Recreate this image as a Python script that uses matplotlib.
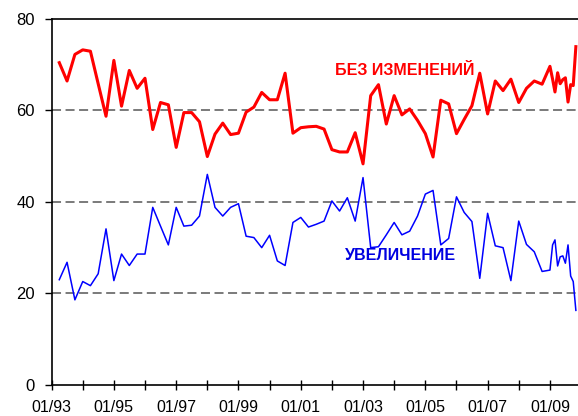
import matplotlib
matplotlib.use('Agg')
import matplotlib.pyplot as plt
import matplotlib.dates as mdates
import pandas as pd

# Даты: поквартально с 04/1993 по 10/2008, затем помесячно в 2009 году
даты_кв = pd.date_range('1993-04-01', '2008-10-01', freq='QS')
даты_мес = pd.date_range('2009-01-01', '2009-11-01', freq='MS')
даты = даты_кв.append(даты_мес)

# Доля ответов "без изменений", %
без_изменений = [
    70.4, 66.4, 72.2,
    73.2, 72.9, 65.8, 58.7,
    70.9, 60.9, 68.7, 64.8,
    67.0, 55.8, 61.7, 61.2,
    51.9, 59.5, 59.5, 57.5,
    49.9, 54.8, 57.2, 54.7,
    55.0, 59.6, 60.7, 63.9,
    62.3, 62.3, 68.1, 55.0,
    56.2, 56.4, 56.5, 55.9,
    51.4, 50.9, 50.9, 55.1,
    48.3, 63.2, 65.6, 57.0,
    63.2, 59.0, 60.3, 57.8,
    54.9, 49.8, 62.2, 61.4,
    54.9, 58.0, 61.0, 68.1,
    59.2, 66.4, 64.3, 66.8,
    61.7, 64.8, 66.4, 65.7,
    69.6, 66.8, 64.0, 68.2, 65.8, 66.7, 67.1, 61.8, 65.6, 65.4, 73.9,
]

# Доля ответов "увеличение", %
увеличение = [
    23.0, 26.8, 18.6,
    22.6, 21.7, 24.3, 34.1,
    22.8, 28.6, 26.1, 28.6,
    28.6, 38.8, 34.7, 30.6,
    38.8, 34.7, 34.9, 36.9,
    46.0, 38.8, 36.9, 38.8,
    39.6, 32.5, 32.2, 30.0,
    32.7, 27.1, 26.1, 35.5,
    36.6, 34.5, 35.1, 35.8,
    40.2, 38.0, 40.9, 35.8,
    45.3, 30.0, 30.2, 32.8,
    35.5, 32.8, 33.6, 36.9,
    41.7, 42.5, 30.6, 32.0,
    41.1, 37.7, 35.7, 23.3,
    37.5, 30.4, 30.0, 22.8,
    35.8, 30.7, 29.1, 24.8,
    25.1, 30.6, 31.7, 26.0, 28.0, 28.2, 26.6, 30.6, 23.8, 22.6, 16.3,
]

# Подписанные годы (нечётные) и все годы для мелких делений
годы_подписи = [pd.Timestamp(f'{г}-01-01') for г in range(1993, 2010, 2)]
годы_все = [pd.Timestamp(f'{г}-01-01') for г in range(1993, 2010)]

plt.rcParams['font.family'] = ['Liberation Sans', 'DejaVu Sans']

fig = plt.figure(figsize=(5.78, 4.16), dpi=100)
ax = fig.add_axes([0.0893, 0.0745, 0.9107, 0.8805])

# Пунктирные линии сетки
for уровень in [20, 40, 60]:
    ax.axhline(уровень, color='#707070', lw=1.3, linestyle=(0, (5, 2.5)), zorder=1)

ax.plot(даты, без_изменений, color='#ff0000', lw=2.2, zorder=3)
ax.plot(даты, увеличение, color='#0000ff', lw=1.1, zorder=3)

ax.text(pd.Timestamp('2004-05-01'), 68.7, 'БЕЗ ИЗМЕНЕНИЙ', color='#ff0000',
        fontsize=11.5, fontweight='bold', ha='center', va='center')
ax.text(pd.Timestamp('2004-03-20'), 28.2, 'УВЕЛИЧЕНИЕ', color='#0000e0',
        fontsize=11.5, fontweight='bold', ha='center', va='center')

ax.set_ylim(0, 80)
ax.set_yticks([0, 20, 40, 60, 80])
ax.set_xlim(pd.Timestamp('1993-01-01'), pd.Timestamp('2009-11-26'))

ax.set_xticks(годы_подписи)
ax.set_xticks(годы_все, minor=True)
ax.xaxis.set_major_formatter(mdates.DateFormatter('%m/%y'))

ax.tick_params(axis='x', which='both', direction='inout', length=7, width=1,
               labelsize=11.5, pad=7.5)
ax.tick_params(axis='y', direction='out', length=5, width=1, labelsize=12, pad=7)

ax.spines['right'].set_visible(False)
for сторона in ['left', 'bottom', 'top']:
    ax.spines[сторона].set_linewidth(1.2)

plt.savefig('out.png', dpi=100)
